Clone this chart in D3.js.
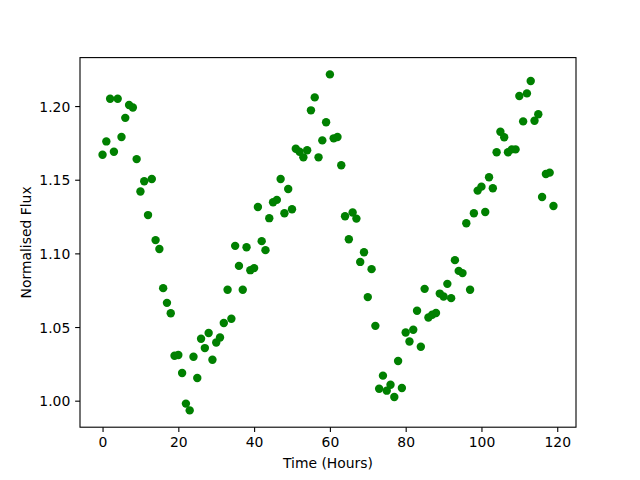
<!DOCTYPE html>
<html>
<head>
<meta charset="utf-8">
<script src="https://cdn.jsdelivr.net/npm/d3@7"></script>
<style>
  body { margin: 0; background: #fff; }
  svg text { font-family: "DejaVu Sans", sans-serif; fill: #000; }
</style>
</head>
<body>
<svg id="chart" width="640" height="480"></svg>
<script>
// time (hours) of each measurement
const timeHours = [
  0, 1, 2, 3, 4, 5, 6, 7, 8, 9,
  10, 11, 12, 13, 14, 15, 16, 17, 18, 19,
  20, 21, 22, 23, 24, 25, 26, 27, 28, 29,
  30, 31, 32, 33, 34, 35, 36, 37, 38, 39,
  40, 41, 42, 43, 44, 45, 46, 47, 48, 49,
  50, 51, 52, 53, 54, 55, 56, 57, 58, 59,
  60, 61, 62, 63, 64, 65, 66, 67, 68, 69,
  70, 71, 72, 73, 74, 75, 76, 77, 78, 79,
  80, 81, 82, 83, 84, 85, 86, 87, 88, 89,
  90, 91, 92, 93, 94, 95, 96, 97, 98, 99,
  100, 101, 102, 103, 104, 105, 106, 107, 108, 109,
  110, 111, 112, 113, 114, 115, 116, 117, 118, 119
];

// normalised flux at each time
const flux = [
  1.167, 1.176, 1.205, 1.169, 1.205, 1.179, 1.192, 1.2007, 1.199, 1.164,
  1.142, 1.149, 1.126, 1.1505, 1.109, 1.103, 1.0764, 1.0664, 1.0594, 1.0305,
  1.031, 1.0188, 0.998, 0.9934, 1.0298, 1.0154, 1.042, 1.0357, 1.0459, 1.0278,
  1.0395, 1.0429, 1.0527, 1.0753, 1.0556, 1.1051, 1.0915, 1.0753, 1.1042, 1.0886,
  1.090, 1.1315, 1.1083, 1.1022, 1.1239, 1.1347, 1.1363, 1.1505, 1.1272, 1.1437,
  1.130, 1.171, 1.169, 1.1652, 1.170, 1.1971, 1.2059, 1.1652, 1.1767, 1.189,
  1.2215, 1.1781, 1.179, 1.1598, 1.1252, 1.1096, 1.1277, 1.1236, 1.0942, 1.1008,
  1.0703, 1.0893, 1.0508, 1.0081, 1.017, 1.0068, 1.0108, 1.0025, 1.0269, 1.0086,
  1.0463, 1.0402, 1.0481, 1.061, 1.0366, 1.0759, 1.0565, 1.0583, 1.0595, 1.0727,
  1.0707, 1.0793, 1.0696, 1.0954, 1.0881, 1.0866, 1.1205, 1.0753, 1.1272, 1.1426,
  1.1453, 1.1281, 1.1517, 1.1442, 1.1686, 1.1826, 1.1788, 1.1686, 1.1706, 1.1706,
  1.2068, 1.1896, 1.2086, 1.217, 1.190, 1.1944, 1.1383, 1.1539, 1.1548, 1.1322
];

const xTicks = [0, 20, 40, 60, 80, 100, 120];
const yTicks = [1.00, 1.05, 1.10, 1.15, 1.20];

const xLabel = 'Time (Hours)';
const yLabel = 'Normalised Flux';

const data = timeHours.map((t, i) => ({ t: t, v: flux[i] }));

const svg = d3.select('#chart');
const width = 640;
const height = 480;

// matplotlib default subplot box
const margin = { top: 57.6, right: 64, bottom: 52.8, left: 80 };
const innerWidth = width - margin.left - margin.right;
const innerHeight = height - margin.top - margin.bottom;

const grp = svg
  .append('g')
  .attr('transform', 'translate(' + margin.left + ',' + margin.top + ')');

// 5% padding around the data, like matplotlib autoscale
function padded(ext) {
  const p = (ext[1] - ext[0]) * 0.05;
  return [ext[0] - p, ext[1] + p];
}

const xScale = d3
  .scaleLinear()
  .domain(padded(d3.extent(data, (d) => d.t)))
  .range([0, innerWidth]);

const yScale = d3
  .scaleLinear()
  .domain(padded(d3.extent(data, (d) => d.v)))
  .range([innerHeight, 0]);

const tickLen = 4.86;

// x axis
const xAxis = grp
  .append('g')
  .attr('transform', `translate(0,${innerHeight})`)
  .call(
    d3.axisBottom(xScale)
      .tickValues(xTicks)
      .tickFormat(d3.format('d'))
      .tickSize(tickLen)
      .tickSizeOuter(0)
      .tickPadding(4.5)
  );
xAxis.select('.domain').remove();
xAxis.attr('font-size', null).attr('font-family', null);
xAxis.selectAll('line').attr('stroke', '#000').attr('stroke-width', 1.1);
xAxis.selectAll('text')
  .style('font-size', '13.9px')
  .attr('dy', '0.76em');

// y axis
const yAxis = grp
  .append('g')
  .call(
    d3.axisLeft(yScale)
      .tickValues(yTicks)
      .tickFormat(d3.format('.2f'))
      .tickSize(tickLen)
      .tickSizeOuter(0)
      .tickPadding(4.9)
  );
yAxis.select('.domain').remove();
yAxis.attr('font-size', null).attr('font-family', null);
yAxis.selectAll('line').attr('stroke', '#000').attr('stroke-width', 1.1);
yAxis.selectAll('text')
  .style('font-size', '13.9px')
  .attr('dy', '0.36em');

// points
grp
  .selectAll('.dot')
  .data(data)
  .enter()
  .append('circle')
  .attr('class', 'dot')
  .attr('cx', (d) => xScale(d.t))
  .attr('cy', (d) => yScale(d.v))
  .attr('r', 4.2)
  .attr('fill', '#008000');

// frame
grp
  .append('rect')
  .attr('x', 0)
  .attr('y', 0)
  .attr('width', innerWidth)
  .attr('height', innerHeight)
  .attr('fill', 'none')
  .attr('stroke', '#000')
  .attr('stroke-width', 1.1);

// axis titles
svg
  .append('text')
  .attr('x', margin.left + innerWidth / 2)
  .attr('y', 468)
  .attr('text-anchor', 'middle')
  .style('font-size', '13.9px')
  .text(xLabel);

svg
  .append('text')
  .attr('transform', `translate(31,${margin.top + innerHeight / 2}) rotate(-90)`)
  .attr('text-anchor', 'middle')
  .style('font-size', '13.9px')
  .text(yLabel);
</script>
</body>
</html>
